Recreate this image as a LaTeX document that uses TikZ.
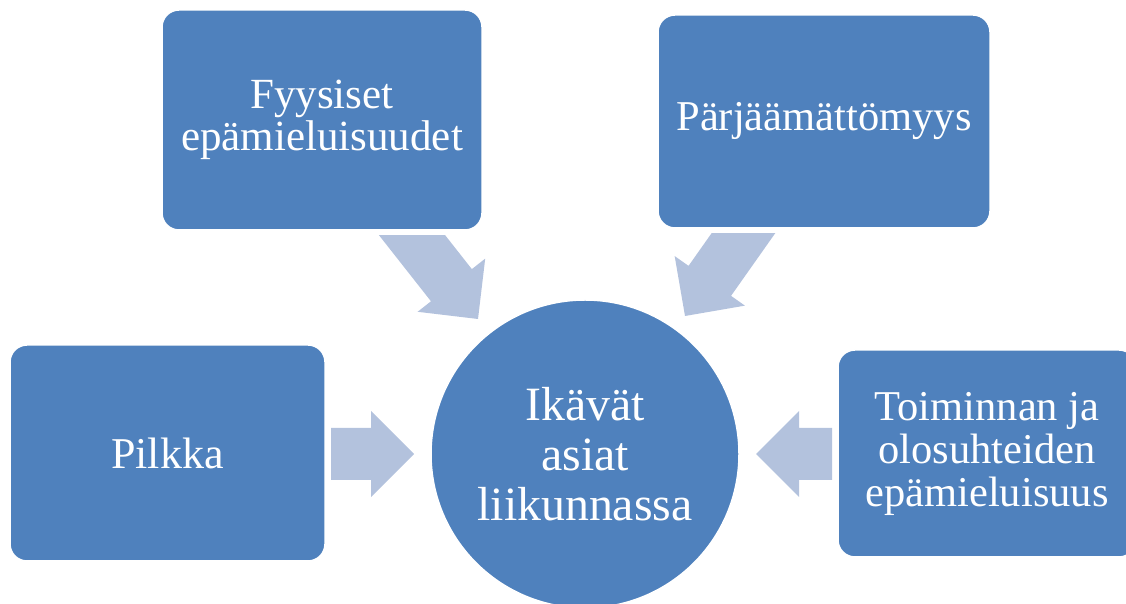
\documentclass[tikz,border=0pt]{standalone}
\usepackage{fontspec}
\setmainfont{Liberation Serif}
\definecolor{boxblue}{HTML}{4F81BD}
\definecolor{arrowblue}{HTML}{B3C2DD}
\begin{document}
\begin{tikzpicture}[x=1pt,y=1pt,
  box/.style={draw=white, line width=1.5pt, fill=boxblue, rounded corners=17pt, text=white, align=center, inner sep=0pt},
  hub/.style={circle, draw=white, line width=1.5pt, fill=boxblue, text=white, align=center, inner sep=0pt, minimum size=308pt},
  pics/blockarrow/.style={code={\fill[arrowblue] (0,0) -- (-43,43) -- (-43,26) -- (-43-#1,26) -- (-43-#1,-26) -- (-43,-26) -- (-43,-43) -- cycle;}}
]
\useasboundingbox (0,0) rectangle (1126,604);
\clip (0,0) rectangle (1126,604);

\node[box, minimum width=320pt, minimum height=220pt, font=\fontsize{43}{42}\selectfont] (fyys) at (322,484) {Fyysiset\\epämieluisuudet};
\node[box, minimum width=332pt, minimum height=213pt, font=\fontsize{42.5}{44}\selectfont] (parj) at (824,482.5) {Pärjäämättömyys};
\node[box, minimum width=315pt, minimum height=216pt, font=\fontsize{44}{48}\selectfont] (pilk) at (167.5,151) {Pilkka};
\node[box, minimum width=298pt, minimum height=207pt, font=\fontsize{42.5}{43}\selectfont] (toim) at (987,150.5) {Toiminnan ja\\olosuhteiden\\epämieluisuus};
\node[hub, font=\fontsize{47.8}{50}\selectfont] (hub) at (585,150) {Ikävät\\asiat\\liikunnassa};

\pic (arrL) at (414,150) {blockarrow=40};
\pic[rotate=180] (arrR) at (756,150) {blockarrow=33};
\begin{scope}
  \clip (0,0) rectangle (1126,368);
  \pic[rotate=-51.8] (arrTL) at (478,285) {blockarrow=90};
\end{scope}
\begin{scope}
  \clip (0,0) rectangle (1126,370);
  \pic[rotate=-125.2] (arrTR) at (685,288) {blockarrow=90};
\end{scope}
\end{tikzpicture}
\end{document}
